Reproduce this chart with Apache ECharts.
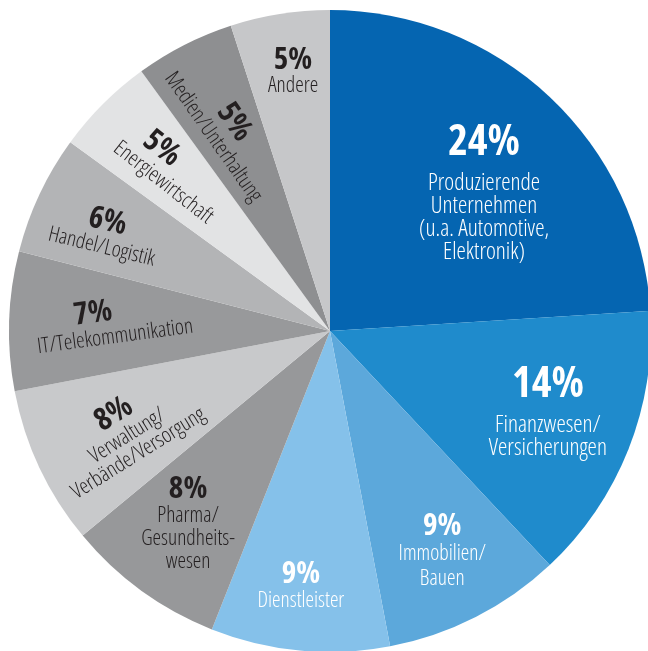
<!DOCTYPE html>
<html><head><meta charset="utf-8">
<script src="https://cdn.jsdelivr.net/npm/echarts@6/dist/echarts.min.js"></script>
<style>html,body{margin:0;padding:0;background:#fff}#c{width:648px;height:651px}</style>
</head><body><div id="c"></div>
<script>
// ---- data ----
const categories = [
  'Produzierende\nUnternehmen\n(u.a. Automotive,\nElektronik)',
  'Finanzwesen/\nVersicherungen',
  'Immobilien/\nBauen',
  'Dienstleister',
  'Pharma/\nGesundheits-\nwesen',
  'Verwaltung/\nVerbände/Versorgung',
  'IT/Telekommunikation',
  'Handel/Logistik',
  'Energiewirtschaft',
  'Medien/Unterhaltung',
  'Andere'
];
const values = [24, 14, 9, 9, 8, 8, 7, 6, 5, 5, 5];

// ---- styling ----
const colors = ['#0565B1','#1F8BCC','#5CA8DB','#85C1EA','#97989A','#C8C9CB','#98999B','#B3B4B6','#E2E3E4','#8E8F91','#C6C7C9'];
const labelRadius = [0.653, 0.72, 0.77, 0.80, 0.745, 0.712, 0.676, 0.765, 0.70, 0.71, 0.818];
const labelAngleShift = [4.1, -2.1, 0, 1.1, 0.4, -1.0, 0.6, -1.5, 0.5, -0.3, 0.9];
const labelRotate = [0, 0, 0, 0, 0, 32, 7.6, -13.6, -38, -55, 0];
const labelWhite = [true, true, true, true, false, false, false, false, false, false, false];
const labelBig = [true, true, false, false, false, false, false, false, false, false, false];
const pctShift = [0, 0, 0, 0, 0, 0, 38, 0, 44, 0, 0];
const nameLH = [23, 23, 25, 23, 23, 21, 22, 22, 22, 22, 22];

const FONT = "'Open Sans','Roboto',sans-serif";
const CX = 330, CY = 331, R = 321;

const total = values.reduce((a, b) => a + b, 0);
const midAngles = [];
let acc = 0;
values.forEach(v => { midAngles.push((acc + v / 2) / total * 360); acc += v; });

const rich = {};
values.forEach((v, i) => {
  const col = labelWhite[i] ? '#ffffff' : '#231f20';
  rich['p' + i] = {
    fontFamily: FONT, fontWeight: 'bold condensed', color: col,
    fontSize: labelBig[i] ? 42 : 31,
    lineHeight: labelBig[i] ? 58 : 30,
    padding: [0, pctShift[i], 0, 0],
    align: 'center'
  };
  rich['n' + i] = {
    fontFamily: FONT, fontWeight: '300 condensed', color: col,
    fontSize: labelBig[i] ? 23.5 : 21.5,
    lineHeight: nameLH[i],
    align: 'center'
  };
});

const data = categories.map((name, i) => ({
  name: name,
  value: values[i],
  itemStyle: { color: colors[i] }
}));

const chart = echarts.init(document.getElementById('c'), null, { renderer: 'canvas' });
chart.setOption({
  animation: false,
  backgroundColor: '#ffffff',
  series: [{
    type: 'pie',
    center: [CX, CY],
    radius: R,
    startAngle: 90,
    clockwise: true,
    avoidLabelOverlap: false,
    emphasis: { disabled: true },
    itemStyle: { borderWidth: 0 },
    label: {
      show: true,
      position: 'inside',
      formatter: p => {
        const i = p.dataIndex;
        const lines = p.name.split('\n').map(l => '{n' + i + '|' + l + '}');
        return ['{p' + i + '|' + p.value + '%}'].concat(lines).join('\n');
      },
      rich: rich
    },
    labelLine: { show: false },
    labelLayout: params => {
      const i = params.dataIndex;
      const a = (midAngles[i] + labelAngleShift[i]) * Math.PI / 180;
      const r = labelRadius[i] * R;
      return {
        x: CX + r * Math.sin(a),
        y: CY - r * Math.cos(a),
        rotate: labelRotate[i],
        align: 'center',
        verticalAlign: 'middle'
      };
    },
    data: data
  }]
});
</script>
</body></html>
